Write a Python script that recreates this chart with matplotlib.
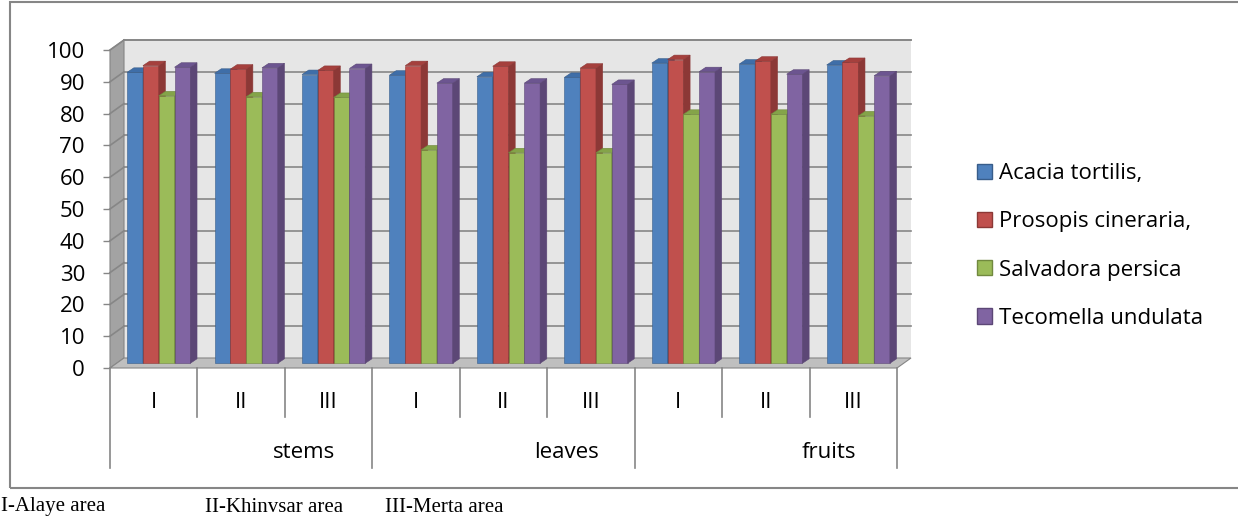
import matplotlib
matplotlib.use("Agg")
import matplotlib.pyplot as plt
from matplotlib.patches import Polygon, Patch, Rectangle
from matplotlib.lines import Line2D

# ---------------- data ----------------
groups = ["stems", "leaves", "fruits"]
areas = ["I", "II", "III"]
species = ["Acacia tortilis,", "Prosopis cineraria,", "Salvadora persica", "Tecomella undulata"]
# values per subgroup (stems I, II, III, leaves I, II, III, fruits I, II, III)
acacia    = [91.5, 91.2, 90.8, 90.6, 90.1, 89.9, 94.4, 94.1, 93.8]
prosopis  = [93.6, 92.5, 92.1, 93.6, 93.4, 92.8, 95.5, 95.0, 94.6]
salvadora = [84.1, 83.8, 83.6, 67.1, 66.2, 66.2, 78.3, 78.3, 77.8]
tecomella = [93.1, 92.9, 92.7, 88.1, 88.1, 87.7, 91.7, 90.9, 90.4]
series = [acacia, prosopis, salvadora, tecomella]
yticks = [0, 10, 20, 30, 40, 50, 60, 70, 80, 90, 100]
footer = ["I-Alaye area", "II-Khinvsar area", "III-Merta area"]

front_c = ["#4F81BD", "#C0504D", "#9BBB59", "#8064A2"]
side_c  = ["#385D8A", "#8C3836", "#71893F", "#5C4776"]
top_c   = ["#3F6EA8", "#A5403D", "#84A449", "#6C5590"]

# ---------------- figure ----------------
W, H = 1238, 520
DPI = 100
fig = plt.figure(figsize=(W / DPI, H / DPI), dpi=DPI)
fig.patch.set_facecolor("white")

x0_px, x1_px, y0_px, y1_px = 110, 897, 368, 50
ax = fig.add_axes([x0_px / W, 1 - y0_px / H, (x1_px - x0_px) / W, (y0_px - y1_px) / H])
n = len(acacia)
ax.set_xlim(0, n)
ax.set_ylim(0, 100)
ax.set_facecolor("none")
for s in ax.spines.values():
    s.set_visible(False)

PX = (x1_px - x0_px) / n      # px per x unit
PY = (y0_px - y1_px) / 100.0  # px per y unit
DX, DY = 14 / PX, 10 / PY     # wall depth
gray = "#868686"

# walls
back = Polygon([(DX, DY), (n + DX, DY), (n + DX, 100 + DY), (DX, 100 + DY)],
               closed=True, facecolor="#E6E6E6", edgecolor="none", zorder=1, clip_on=False)
ax.add_patch(back)
ax.add_line(Line2D([DX, n + DX], [100 + DY, 100 + DY], color=gray, lw=1.2, zorder=2, clip_on=False))
left = Polygon([(0, 0), (DX, DY), (DX, 100 + DY), (0, 100)], closed=True,
               facecolor="#A3A3A3", edgecolor=gray, lw=0.8, zorder=2, clip_on=False)
ax.add_patch(left)
floor = Polygon([(0, 0), (n, 0), (n + DX, DY), (DX, DY)], closed=True,
                facecolor="#BFBFBF", edgecolor=gray, lw=0.8, zorder=2, clip_on=False)
ax.add_patch(floor)

# gridlines
for v in yticks[1:]:
    ax.add_line(Line2D([DX, n + DX], [v + DY, v + DY], color=gray, lw=1.2, zorder=2, clip_on=False))
    ax.add_line(Line2D([0, DX], [v, v + DY], color=gray, lw=1.2, zorder=2, clip_on=False))

# bars
bw = 15.8 / PX
bdx, bdy = 6.7 / PX, 4.5 / PY
sx, sy = 5.0 / PX, 4.7 / PY
z = 5
for i in range(n):
    start = i + 0.5 - 2 * bw + sx
    for k, vals in enumerate(series):
        h = vals[i]
        xl = start + k * bw
        xr = xl + bw
        yb = sy
        yt = sy + h
        ax.add_patch(Polygon([(xl, yb), (xr, yb), (xr, yt), (xl, yt)], closed=True,
                             facecolor=front_c[k], edgecolor=side_c[k], lw=0.4, zorder=z, clip_on=False))
        ax.add_patch(Polygon([(xr, yb), (xr + bdx, yb + bdy), (xr + bdx, yt + bdy), (xr, yt)], closed=True,
                             facecolor=side_c[k], edgecolor=side_c[k], lw=0.4, zorder=z, clip_on=False))
        ax.add_patch(Polygon([(xl, yt), (xr, yt), (xr + bdx, yt + bdy), (xl + bdx, yt + bdy)], closed=True,
                             facecolor=top_c[k], edgecolor=side_c[k], lw=0.4, zorder=z, clip_on=False))
        z += 1

# y axis ticks
ax.set_yticks(yticks)
ax.set_yticklabels([str(v) for v in yticks], fontfamily="Open Sans", fontsize=16)
ax.tick_params(axis="y", length=5, width=1.0, color=gray, pad=13)
ax.set_xticks([])

# category axis (multi-level)
minor_depth = -(417 - 368) / PY
major_depth = -(468 - 368) / PY
for i in range(n + 1):
    d = major_depth if i % 3 == 0 else minor_depth
    ax.add_line(Line2D([i, i], [0, d], color=gray, lw=1.2, zorder=2, clip_on=False))
tier1_y = -(402 - 368) / PY
tier2_y = -(452 - 368) / PY
for i in range(n):
    ax.text(i + 0.5, tier1_y, areas[i % 3], ha="center", va="center",
            fontfamily="Open Sans", fontsize=16, clip_on=False)
for g, name in enumerate(groups):
    ax.text(g * 3 + 1.5 + 0.72, tier2_y, name, ha="center", va="center",
            fontfamily="Open Sans", fontsize=16, clip_on=False)

# legend
handles = [Patch(facecolor=front_c[k], edgecolor=side_c[k], lw=1.0) for k in range(4)]
fig.legend(handles, species, loc="center left", bbox_to_anchor=(977 / W, 1 - 246 / H),
           frameon=False, prop={"family": "Open Sans", "size": 16},
           handlelength=0.68, handleheight=0.68, handletextpad=0.32,
           labelspacing=1.22, borderpad=0, borderaxespad=0)

# outer chart border
fig.add_artist(Rectangle((10 / W, 1 - 488 / H), 1.1, (488 - 2) / H, transform=fig.transFigure,
                         facecolor="none", edgecolor=gray, lw=1.5, clip_on=False))

# footer
for txt, xp in zip(footer, [1, 205, 385]):
    fig.text(xp / W, 1 - 507 / H, txt, ha="left", va="center",
             fontfamily="Liberation Serif", fontsize=15)

fig.savefig("out.png", dpi=DPI)
